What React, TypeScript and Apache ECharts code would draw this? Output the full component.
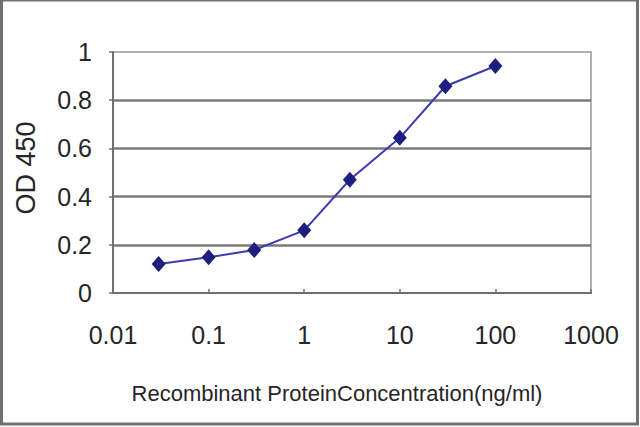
import React, { useEffect, useRef } from "react";
import * as echarts from "echarts";

const concentrations = [0.03, 0.1, 0.3, 1, 3, 10, 30, 100];
const odValues = [0.12, 0.148, 0.178, 0.26, 0.47, 0.644, 0.858, 0.942];
const xTickLabels = ["0.01", "0.1", "1", "10", "100", "1000"];
const yTickLabels = ["0", "0.2", "0.4", "0.6", "0.8", "1"];
const xTitle = "Recombinant ProteinConcentration(ng/ml)";
const yTitle = "OD 450";

const FONT = "'Liberation Sans', Arial, sans-serif";

export default function App() {
  const ref = useRef<HTMLDivElement>(null);
  useEffect(() => {
    if (!ref.current) return;
    const chart = echarts.init(ref.current, null, { renderer: "svg" });
    chart.setOption({
      animation: false,
      backgroundColor: "#ffffff",
      grid: {
        left: 113,
        top: 52,
        right: 49,
        bottom: 134,
        show: true,
        borderColor: "#b0b0b0",
        borderWidth: 2,
        outerBoundsMode: "none",
      },
      xAxis: {
        type: "log",
        logBase: 10,
        min: 0.01,
        max: 1000,
        axisLine: { show: true, lineStyle: { color: "#707070", width: 2 } },
        axisTick: { show: true, inside: true, length: 4, lineStyle: { color: "#707070", width: 1.5 } },
        splitLine: { show: false },
        minorTick: { show: false },
        axisLabel: {
          margin: 29,
          fontSize: 25,
          fontFamily: FONT,
          color: "#262626",
          formatter: (v: number) => xTickLabels[Math.round(Math.log10(v)) + 2] ?? "",
        },
      },
      yAxis: {
        type: "value",
        min: 0,
        max: 1,
        interval: 0.2,
        axisLine: { show: true, lineStyle: { color: "#707070", width: 2 } },
        axisTick: { show: true, inside: false, length: 4, lineStyle: { color: "#707070", width: 1.5 } },
        splitLine: {
          show: true,
          showMinLine: false,
          showMaxLine: false,
          lineStyle: { color: "#7a7a7a", width: 2.5 },
        },
        axisLabel: {
          margin: 21,
          fontSize: 25,
          fontFamily: FONT,
          color: "#262626",
          formatter: (v: number) => yTickLabels[Math.round(v * 5)] ?? "",
        },
      },
      graphic: [
        {
          type: "rect",
          shape: { x: 1.5, y: 0, width: 636, height: 424 },
          style: { fill: "none", stroke: "#707070", lineWidth: 3 },
          silent: true,
        },
        {
          type: "text",
          x: 337,
          y: 393,
          style: {
            text: xTitle,
            fontSize: 22,
            fontFamily: FONT,
            fill: "#262626",
            align: "center",
            verticalAlign: "middle",
          },
        },
        {
          type: "text",
          x: 26,
          y: 168,
          rotation: Math.PI / 2,
          style: {
            text: yTitle,
            fontSize: 27,
            fontFamily: FONT,
            fill: "#262626",
            align: "center",
            verticalAlign: "middle",
          },
        },
      ],
      series: [
        {
          type: "line",
          data: concentrations.map((c, i) => [c, odValues[i]]),
          symbol: "diamond",
          symbolSize: [14, 16],
          lineStyle: { color: "#3c3cb0", width: 2 },
          itemStyle: { color: "#1e1e7e" },
        },
      ],
    });
    return () => chart.dispose();
  }, []);
  return (
    <div
      ref={ref}
      style={{ position: "absolute", left: 0, top: 0, width: 640, height: 427 }}
    />
  );
}
